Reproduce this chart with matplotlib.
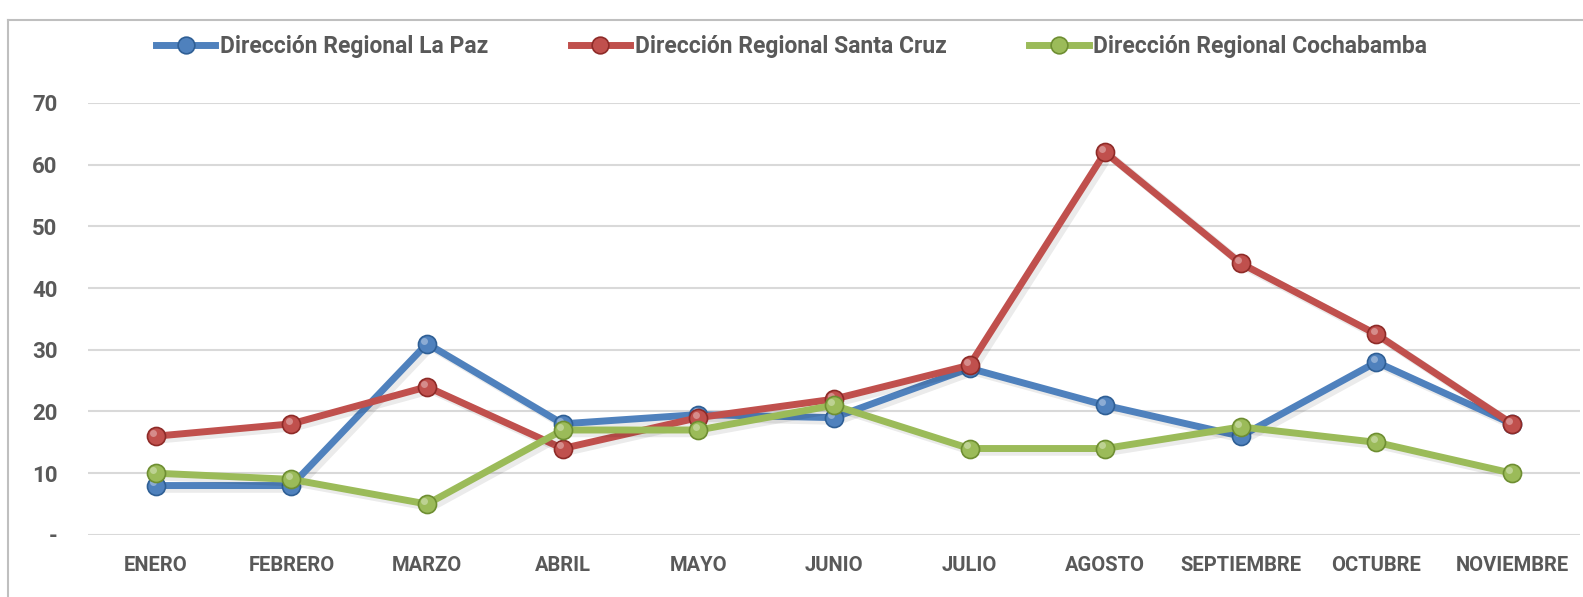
import matplotlib
matplotlib.use("Agg")
import matplotlib.pyplot as plt
from matplotlib.lines import Line2D

meses = ["ENERO", "FEBRERO", "MARZO", "ABRIL", "MAYO", "JUNIO", "JULIO",
         "AGOSTO", "SEPTIEMBRE", "OCTUBRE", "NOVIEMBRE"]
la_paz = [8, 8, 31, 18, 19.5, 19, 27, 21, 16, 28, 18]
santa_cruz = [16, 18, 24, 14, 19, 22, 27.5, 62, 44, 32.5, 18]
cochabamba = [10, 9, 5, 17, 17, 21, 14, 14, 17.5, 15, 10]
nombres = ["Dirección Regional La Paz", "Dirección Regional Santa Cruz",
           "Dirección Regional Cochabamba"]
colores = ["#4F81BD", "#C0504D", "#9BBB59"]
bordes = ["#2F5F95", "#8E2B28", "#6E8E32"]
y_ticks = [0, 10, 20, 30, 40, 50, 60, 70]
y_labels = ["-", "10", "20", "30", "40", "50", "60", "70"]

plt.rcParams["font.family"] = ["Roboto", "DejaVu Sans"]
txt = "#595959"

fig = plt.figure(figsize=(15.83, 5.97), dpi=100)
ax = fig.add_axes([0.0556, 0.104, 0.9424, 0.7236])

x = list(range(len(meses)))
series = [la_paz, santa_cruz, cochabamba]
for i, vals in enumerate(series):
    # shadow
    ax.plot([v + 0.03 for v in x], [v - 0.5 for v in vals], color="#000000",
            alpha=0.08, lw=6, solid_capstyle="round", zorder=2 + i)
    ax.plot(x, vals, color=colores[i], lw=5, solid_joinstyle="round",
            marker="o", ms=13, mfc=colores[i], mec=bordes[i], mew=1.2,
            zorder=3 + i)
    # highlight on the sphere
    ax.plot([v - 0.02 for v in x], [v + 0.5 for v in vals], ls="none",
            marker="o", ms=5, mfc="white", mec="none", alpha=0.35, zorder=3.5 + i)

ax.set_xlim(-0.5, len(meses) - 0.5)
ax.set_ylim(0, 70)
ax.set_yticks(y_ticks)
ax.set_yticklabels(y_labels)
ax.set_xticks(x)
ax.set_xticklabels(meses)
ax.grid(axis="y", color="#D9D9D9", lw=1.5)
ax.set_axisbelow(True)
for s in ax.spines.values():
    s.set_visible(False)
ax.tick_params(length=0)
ax.tick_params(axis="y", pad=22, labelsize=16, labelcolor=txt)
ax.tick_params(axis="x", pad=15, labelsize=14.5, labelcolor=txt)
for lab in ax.get_xticklabels() + ax.get_yticklabels():
    lab.set_fontweight("bold")

handles = [Line2D([0], [0], color=c, lw=5, marker="o", ms=12, mfc=c, mec=b, mew=1.2)
           for c, b in zip(colores, bordes)]
leg = fig.legend(handles, nombres, loc="center", bbox_to_anchor=(0.5, 0.922),
                 ncol=3, frameon=False, handlelength=2.6, handletextpad=0.2,
                 columnspacing=3.6, prop={"size": 16.5, "weight": "bold"})
for t in leg.get_texts():
    t.set_color(txt)

# outer frame of the chart area
fig.add_artist(Line2D([0.005, 0.005], [0, 0.967], color="#BFBFBF", lw=1.5))
fig.add_artist(Line2D([0.005, 1], [0.967, 0.967], color="#BFBFBF", lw=1.5))

fig.savefig("out.png", dpi=100)
